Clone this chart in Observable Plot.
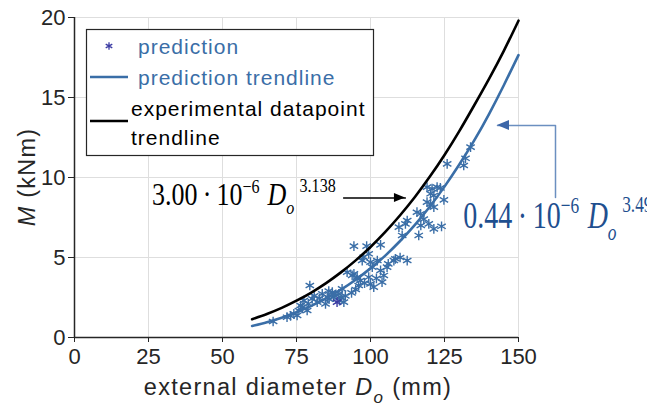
<!DOCTYPE html>
<html><head><meta charset="utf-8">
<script src="https://cdn.jsdelivr.net/npm/d3@7"></script>
<script src="https://cdn.jsdelivr.net/npm/@observablehq/plot@0.6"></script>
<style>body{margin:0;background:#fff} svg{display:block}</style>
</head><body><div id="chart"></div>
<script>
// ---- data ----
const xTicks = [0, 25, 50, 75, 100, 125, 150];
const yTicks = [0, 5, 10, 15, 20];

// predicted moments: external diameter Do (mm) and M (kNm)
const predD = [67.1,71.8,73.0,74.1,75.2,75.8,76.4,77.0,77.5,78.6,79.0,79.5,80.3,81.0,82.0,82.8,83.7,84.8,85.4,85.9,86.0,87.1,87.5,88.0,89.3,89.5,90.0,90.4,91.0,91.5,92.1,93.6,93.8,94.4,94.4,95.0,95.5,96.0,96.6,97.2,97.7,98.0,98.7,99.4,99.4,100.0,100.0,100.6,101.1,102.0,102.3,103.4,103.4,103.9,104.5,105.6,106.0,107.9,108.4,109.6,110.0,110.7,111.8,112.4,112.4,115.7,116.3,116.9,117.0,118.0,119.1,119.1,119.7,120.3,120.3,120.8,121.4,121.4,121.4,122.5,123.6,124.0,124.8,125.9,131.5,132.1,133.8];
const predM = [1.00,1.27,1.35,1.48,1.38,1.69,2.00,1.90,2.31,1.69,2.10,3.25,2.42,2.60,2.21,2.45,2.73,2.10,2.52,2.90,2.40,2.83,2.52,2.60,2.73,2.30,2.50,3.04,2.21,2.60,4.08,2.79,3.88,3.98,5.71,3.00,3.77,3.25,3.56,4.81,5.02,3.40,5.71,5.23,3.77,4.71,3.35,4.40,3.15,3.70,4.81,5.79,4.19,3.46,3.88,4.40,4.60,4.81,4.92,6.90,5.00,6.38,7.10,4.81,7.31,7.83,6.38,7.73,7.00,7.40,9.40,8.46,7.10,8.98,8.35,9.30,8.88,8.15,6.79,9.40,9.35,6.95,8.60,10.85,10.75,11.20,11.90];
const darkD = [88.7];
const darkM = [2.21];

// trendlines
const trendD = [60,65,70,75,80,85,90,95,100,105,110,115,120,125,130,135,140,145,150];
const expTrendM = [1.14,1.47,1.85,2.30,2.81,3.40,4.07,4.82,5.66,6.60,7.64,8.78,10.04,11.41,12.90,14.50,16.15,17.90,19.80];
const predTrendM = [0.72,0.96,1.24,1.58,1.98,2.45,2.99,3.61,4.32,5.12,6.03,7.04,8.17,9.43,10.81,12.30,13.95,15.75,17.65];

// annotation arrows (data coordinates)
const expArrowD = [90.9, 111.8];
const expArrowM = [8.72, 8.72];
const predArrowD = [162.5, 162.5, 142.9];
const predArrowM = [8.75, 13.25, 13.25];
// annotation text anchors (left baseline)
const expEqD = 26.35, expEqM = 8.25;
const predEqD = 131.5, predEqM = 6.81;
const expEq = {coef: "3.00", e1: "6", e2: "3.138"};
const predEq = {coef: "0.44", e1: "6", e2: "3.496"};

const legendLabels = ["prediction", "prediction trendline", "experimental datapoint", "trendline"];

// ---- build ----
const BLUE = "#3a6ea7";
const pred = predD.map((d, i) => ({D: d, M: predM[i]}));
const dark = darkD.map((d, i) => ({D: d, M: darkM[i]}));
const expTrend = trendD.map((d, i) => ({D: d, M: expTrendM[i]}));
const predTrend = trendD.map((d, i) => ({D: d, M: predTrendM[i]}));
const expArrow = expArrowD.map((d, i) => ({D: d, M: expArrowM[i]}));
const predArrow = predArrowD.map((d, i) => ({D: d, M: predArrowM[i]}));

const plot = Plot.plot({
  width: 647, height: 415,
  marginLeft: 74, marginRight: 129, marginTop: 17, marginBottom: 78,
  x: {domain: [0, 150]},
  y: {domain: [0, 20]},
  style: {fontFamily: "'Liberation Sans', Arial, sans-serif", color: "#262626", background: "white", overflow: "visible"},
  marks: [
    Plot.gridX(xTicks, {stroke: "#dedede", strokeOpacity: 1, strokeWidth: 1}),
    Plot.gridY(yTicks, {stroke: "#dedede", strokeOpacity: 1, strokeWidth: 1}),
    Plot.axisX(xTicks, {tickSize: 5, tickPadding: 6, fontSize: 22, label: null, stroke: "#262626"}),
    Plot.axisY(yTicks, {tickSize: 6, tickPadding: 3, fontSize: 22, label: null, stroke: "#262626"}),
    Plot.ruleX([0], {stroke: "#262626", strokeWidth: 1.5}),
    Plot.ruleY([0], {stroke: "#262626", strokeWidth: 1.5}),
    Plot.dot(pred, {x: "D", y: "M", symbol: "asterisk", r: 4.6, stroke: BLUE, strokeWidth: 1.4}),
    Plot.dot(dark, {x: "D", y: "M", symbol: "asterisk", r: 4.6, stroke: "#3b3ba3", strokeWidth: 1.4}),
    Plot.line(expTrend, {x: "D", y: "M", stroke: "black", strokeWidth: 2.6, curve: "natural", clip: false}),
    Plot.line(predTrend, {x: "D", y: "M", stroke: BLUE, strokeWidth: 2.6, curve: "natural"}),
    Plot.line(expArrow, {x: "D", y: "M", stroke: "black", strokeWidth: 1.3}),
    Plot.line(predArrow, {x: "D", y: "M", stroke: "#6b8fc0", strokeWidth: 1.5})
  ]
});
document.getElementById("chart").appendChild(plot);

const sx = plot.scale("x"), sy = plot.scale("y");
const X = v => sx.apply(v), Y = v => sy.apply(v);
const svg = d3.select(plot);
const layer = svg.append("g").attr("text-anchor", "start");

// arrow heads
function head(tipD, tipM, dir, color, len, half) {
  const tx = X(tipD), ty = Y(tipM);
  layer.append("path")
    .attr("d", `M${tx},${ty}L${tx - dir*len},${ty - half}L${tx - dir*len},${ty + half}Z`)
    .attr("fill", color);
}
head(expArrowD[1], expArrowM[1], 1, "black", 11, 4.5);
head(predArrowD[2], predArrowM[2], -1, "#3c66a8", 12, 5);

// equations
function eq(d, m, f, s, color, e) {
  const t = layer.append("g").attr("transform", `translate(${X(d)},${Y(m)}) scale(1,${s})`)
    .append("text").attr("font-family", "'Liberation Serif', 'Times New Roman', serif")
    .attr("text-anchor", "start")
    .attr("font-size", f).attr("fill", color);
  t.append("tspan").text(e.coef + "\u2009\u00B7\u200910");
  t.append("tspan").attr("font-size", f*0.62).attr("dy", -0.4*f).text("\u2212" + e.e1);
  t.append("tspan").attr("font-style", "italic").attr("dy", 0.4*f).attr("dx", 0.3*f).text("D");
  t.append("tspan").attr("font-style", "italic").attr("font-size", f*0.62).attr("dy", 0.3*f).text("o");
  t.append("tspan").attr("font-size", f*0.62).attr("dy", -0.72*f).attr("dx", 0.2*f).text(e.e2);
}
eq(expEqD, expEqM, 26, 1.2, "black", expEq);
eq(predEqD, predEqM, 28, 1.37, "#1f4f8f", predEq);

// axis titles
const xt = svg.append("text").attr("x", (X(0) + X(150)) / 2 + 2).attr("y", 395)
  .attr("text-anchor", "middle").attr("font-size", 23.5).attr("letter-spacing", 1.3).attr("fill", "#262626");
xt.append("tspan").text("external diameter ");
xt.append("tspan").attr("font-style", "italic").text("D");
xt.append("tspan").attr("font-style", "italic").attr("font-size", 17).attr("dy", 8).text("o");
xt.append("tspan").attr("dy", -8).text(" (mm)");

const yt = svg.append("text").attr("transform", `translate(35,${(Y(0) + Y(20)) / 2}) rotate(-90)`)
  .attr("text-anchor", "middle").attr("font-size", 23.5).attr("letter-spacing", 1.2).attr("fill", "#262626");
yt.append("tspan").attr("font-style", "italic").text("M");
yt.append("tspan").text(" (kNm)");

// legend
const lg = svg.append("g").attr("font-size", 21).attr("letter-spacing", 1).attr("text-anchor", "start");
lg.append("rect").attr("x", 86.5).attr("y", 29.5).attr("width", 287).attr("height", 126)
  .attr("fill", "white").attr("stroke", "#262626").attr("stroke-width", 1.2);
lg.append("path").attr("d", d3.symbol(d3.symbolAsterisk, 40)()).attr("transform", "translate(109,46)")
  .attr("stroke", "#3b3ba3").attr("stroke-width", 1.3).attr("fill", "none");
lg.append("text").attr("x", 138).attr("y", 53.5).attr("fill", BLUE).text(legendLabels[0]);
lg.append("line").attr("x1", 90).attr("x2", 128).attr("y1", 77).attr("y2", 77).attr("stroke", BLUE).attr("stroke-width", 2.6);
lg.append("text").attr("x", 138).attr("y", 84.5).attr("fill", BLUE).text(legendLabels[1]);
lg.append("line").attr("x1", 90).attr("x2", 128).attr("y1", 121).attr("y2", 121).attr("stroke", "black").attr("stroke-width", 2.6);
lg.append("text").attr("x", 131).attr("y", 116).attr("fill", "black").text(legendLabels[2]);
lg.append("text").attr("x", 131).attr("y", 145).attr("fill", "black").text(legendLabels[3]);
</script>
</body></html>
